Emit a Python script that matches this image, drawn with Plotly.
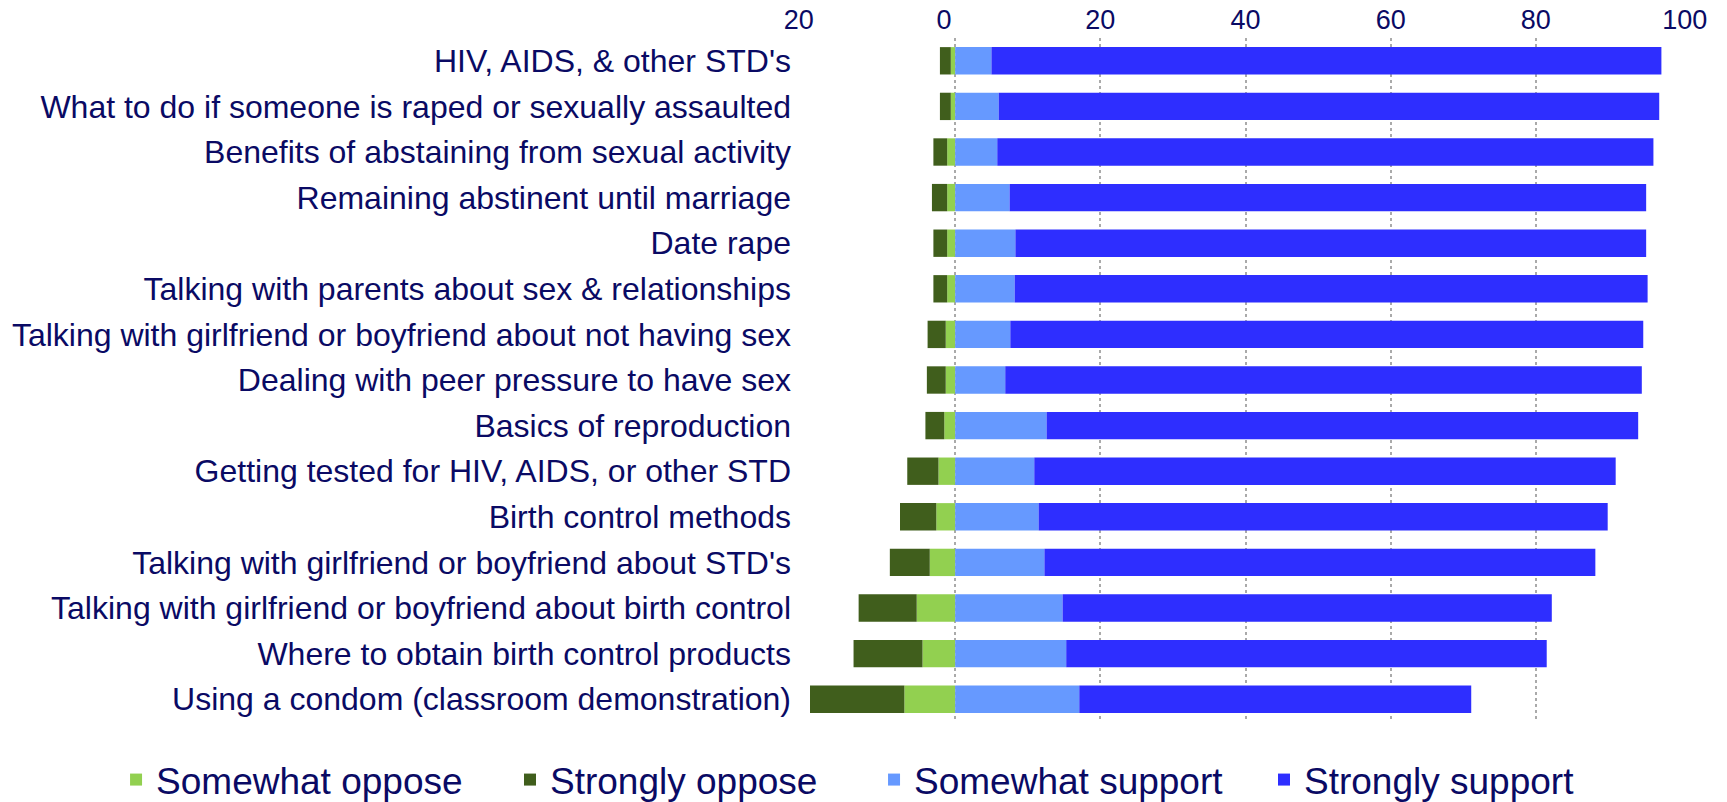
import plotly.graph_objects as go

categories = [
    "HIV, AIDS, & other STD's",
    "What to do if someone is raped or sexually assaulted",
    "Benefits of abstaining from sexual activity",
    "Remaining abstinent until marriage",
    "Date rape",
    "Talking with parents about sex & relationships",
    "Talking with girlfriend or boyfriend about not having sex",
    "Dealing with peer pressure to have sex",
    "Basics of reproduction",
    "Getting tested for HIV, AIDS, or other STD",
    "Birth control methods",
    "Talking with girlfriend or boyfriend about STD's",
    "Talking with girlfriend or boyfriend about birth control",
    "Where to obtain birth control products",
    "Using a condom (classroom demonstration)",
]

somewhat_oppose = [0.6, 0.6, 1.1, 1.1, 1.1, 1.1, 1.3, 1.3, 1.5, 2.3, 2.6, 3.5, 5.3, 4.5, 7.0]
strongly_oppose = [1.5, 1.5, 1.9, 2.1, 1.9, 1.9, 2.5, 2.6, 2.6, 4.3, 5.0, 5.5, 8.0, 9.5, 13.0]
somewhat_support = [5.0, 6.0, 5.8, 7.5, 8.3, 8.2, 7.6, 6.9, 12.6, 10.9, 11.5, 12.3, 14.8, 15.3, 17.1]
strongly_support = [92.3, 91.0, 90.4, 87.7, 86.9, 87.2, 87.2, 87.7, 81.5, 80.1, 78.4, 75.9, 67.4, 66.2, 54.0]

tick_vals = [-20, 0, 20, 40, 60, 80, 100]
# left-hand labels sit a little left of their gridline in the original
tick_text = ["20\u00a0\u00a0\u00a0", "0\u00a0\u00a0\u00a0", "20", "40", "60", "80", "\u00a0100"]

TEXT = "#0A0A64"
FONT = "Arial, Liberation Sans, sans-serif"

fig = go.Figure()
# oppose side is drawn as negative values, somewhat oppose sits next to zero
fig.add_trace(go.Bar(y=categories, x=[-v for v in somewhat_oppose], name="Somewhat oppose",
                     orientation="h", legend="legend",
                     marker=dict(color="#92D050", line=dict(width=0))))
fig.add_trace(go.Bar(y=categories, x=[-v for v in strongly_oppose], name="Strongly oppose",
                     orientation="h", legend="legend2",
                     marker=dict(color="#405E1C", line=dict(width=0))))
fig.add_trace(go.Bar(y=categories, x=somewhat_support, name="Somewhat support",
                     orientation="h", legend="legend3",
                     marker=dict(color="#6699FF", line=dict(width=0))))
fig.add_trace(go.Bar(y=categories, x=strongly_support, name="Strongly support",
                     orientation="h", legend="legend4",
                     marker=dict(color="#2E2EFF", line=dict(width=0))))


def leg(x):
    return dict(
        orientation="h",
        xref="container", x=x, xanchor="left",
        yref="container", y=0.0274, yanchor="middle",
        font=dict(size=37, color=TEXT),
        itemwidth=30, bgcolor="rgba(0,0,0,0)",
    )


fig.update_layout(
    barmode="relative",
    bargap=0.4,
    width=1727, height=802,
    paper_bgcolor="white", plot_bgcolor="white",
    font=dict(family=FONT, color=TEXT),
    margin=dict(l=810, r=46, t=38, b=80, pad=0, autoexpand=False),
    xaxis=dict(
        side="top", range=[-20, 100],
        tickvals=tick_vals, ticktext=tick_text,
        tickfont=dict(size=27, color=TEXT),
        ticklabelstandoff=3,
        showgrid=True, gridcolor="#AAAAAA", griddash="dot", gridwidth=1.5,
        zeroline=False, showline=False, ticks="",
        automargin=False, fixedrange=True,
    ),
    yaxis=dict(
        autorange="reversed",
        tickfont=dict(size=32, color=TEXT),
        showgrid=False, zeroline=False, showline=False, ticks="",
        ticklabelstandoff=18,
        automargin=False, fixedrange=True,
    ),
    legend=leg(0.0672),
    legend2=leg(0.2953),
    legend3=leg(0.5061),
    legend4=leg(0.7319),
    showlegend=True,
)

# drop the default page margin so the figure fills the window exactly
fig.write_html("out.html", config={"displayModeBar": False},
               post_script="document.body.style.margin = '0';")
